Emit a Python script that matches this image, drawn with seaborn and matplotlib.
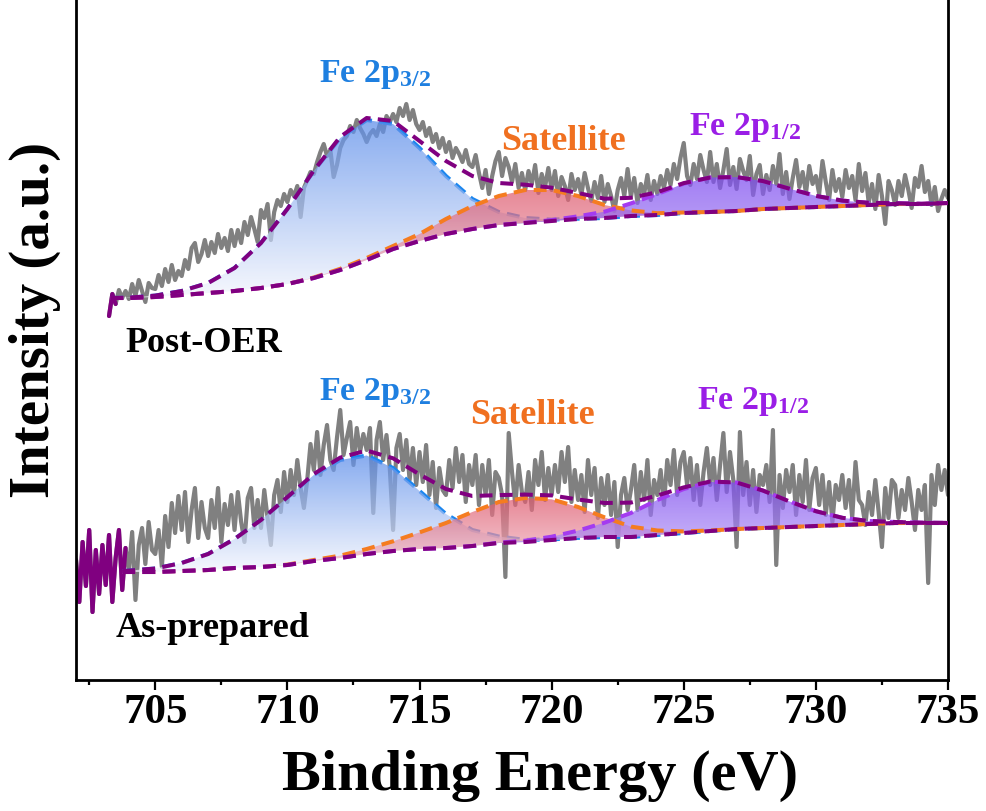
import numpy as np
import matplotlib
matplotlib.use("Agg")
import matplotlib.pyplot as plt
import seaborn as sns
from matplotlib.patches import PathPatch
from matplotlib.colors import to_rgb
from matplotlib.ticker import MultipleLocator

# ---------------- data ----------------
energy_step = 0.125

# Post-OER raw spectrum (starts at 703.25 eV, step 0.125 eV)
post_start = 703.25
post_raw = [684, 706, 696, 710, 702, 709,
            701, 716, 704, 720, 709, 698, 717, 712,
            711, 725, 714, 731, 718, 735, 720, 729,
            724, 740, 731, 752, 757, 738, 746, 760,
            744, 758, 747, 766, 752, 762, 749, 770,
            754, 770, 757, 778, 765, 783, 771, 758,
            790, 782, 796, 760, 788, 800, 794, 806,
            798, 810, 804, 814, 783, 812, 820, 828,
            826, 838, 848, 856, 844, 850, 823, 835,
            852, 860, 864, 874, 868, 880, 872, 866,
            858, 866, 870, 864, 876, 868, 884, 878,
            886, 878, 892, 884, 896, 880, 890, 876,
            870, 878, 864, 872, 858, 866, 852, 862,
            848, 858, 842, 852, 846, 838, 850, 836,
            833, 845, 827, 812, 830, 806, 824, 839,
            848, 824, 842, 833, 818, 836, 812, 827,
            810, 829, 816, 835, 807, 826, 813, 832,
            810, 829, 804, 823, 814, 800, 826, 810,
            821, 805, 827, 812, 799, 818, 802, 824,
            798, 816, 804, 789, 810, 822, 804, 831,
            803, 822, 797, 816, 806, 825, 800, 819,
            806, 824, 812, 830, 815, 836, 821, 842,
            857, 824, 815, 836, 821, 845, 830, 818,
            848, 818, 836, 812, 830, 851, 815, 833,
            811, 841, 829, 820, 844, 805, 826, 835,
            806, 825, 810, 834, 816, 846, 806, 828,
            801, 822, 840, 813, 828, 807, 834, 816,
            824, 806, 839, 818, 800, 830, 809, 821,
            803, 830, 812, 824, 800, 836, 809, 827,
            797, 816, 791, 825, 804, 776, 819, 810,
            795, 819, 804, 825, 810, 792, 822, 813,
            834, 808, 819, 795, 813, 789, 801, 810,
            802]

# As-prepared raw spectrum (starts at 702.0 eV, step 0.125 eV)
prep_start = 702.0
prep_raw = [440, 398, 458, 414, 470, 388, 450, 406,
            455, 415, 465, 398, 442, 470, 410, 452,
            430, 468, 400, 455, 472, 436, 478, 450,
            446, 470, 433, 484, 453, 497, 467, 504,
            470, 508, 458, 490, 512, 462, 498, 472,
            462, 500, 472, 512, 458, 496, 475, 505,
            470, 508, 478, 458, 502, 512, 472, 500,
            472, 510, 482, 455, 505, 520, 488, 528,
            498, 530, 505, 540, 512, 492, 520, 556,
            530, 568, 525, 555, 575, 540, 530, 562,
            590, 545, 562, 578, 535, 572, 548, 566,
            550, 572, 487, 560, 578, 540, 565, 532,
            470, 552, 566, 530, 560, 520, 552, 515,
            548, 518, 555, 505, 538, 492, 532, 510,
            505, 540, 512, 552, 518, 545, 498, 535,
            515, 545, 495, 535, 505, 540, 485, 528,
            522, 505, 423, 567, 528, 495, 535, 508,
            498, 528, 490, 540, 515, 548, 500, 532,
            505, 535, 508, 548, 518, 553, 498, 530,
            500, 525, 488, 540, 505, 532, 482, 522,
            495, 525, 485, 518, 453, 505, 522, 490,
            510, 535, 490, 528, 500, 540, 485, 520,
            505, 530, 495, 540, 515, 550, 505, 538,
            548, 515, 542, 500, 535, 495, 528, 552,
            515, 542, 500, 535, 567, 508, 548, 520,
            453, 568, 505, 538, 495, 530, 488, 525,
            515, 535, 498, 570, 435, 525, 492, 530,
            508, 535, 485, 525, 498, 540, 490, 522,
            532, 495, 525, 485, 518, 478, 515, 500,
            525, 492, 520, 482, 538, 500, 495, 475,
            508, 485, 520, 488, 453, 512, 482, 520,
            515, 482, 510, 490, 522, 498, 470, 510,
            490, 515, 417, 525, 495, 535, 510, 530,
            505]

# Fitted curves (1 eV grid): background and component heights above background
post_fit_x = [703.3] + list(range(704, 736))
post_bg = [702, 702, 703, 705, 707, 709, 712, 716, 722, 730, 740, 751, 759, 766,
           771, 775, 777, 779, 781, 782, 784, 785, 787, 788, 789, 791, 792, 793,
           794, 795, 796, 796, 797]
post_p32 = [0, 0.3, 1.4, 4, 10, 23, 45, 75, 107, 132, 140, 125, 93, 58, 30, 13, 5,
            1.4, 0.3, 0, 0, 0, 0, 0, 0, 0, 0, 0, 0, 0, 0, 0, 0]
post_sat = [0, 0, 0, 0, 0, 0, 0, 0, 0.5, 1.2, 2, 3, 7, 15, 23, 29, 33, 31, 23, 13,
            5.6, 1.8, 0.5, 0, 0, 0, 0, 0, 0, 0, 0, 0, 0]
post_p12 = [0, 0, 0, 0, 0, 0, 0, 0, 0, 0, 0, 0, 0, 0, 0, 0, 0.3, 0.9, 2.7, 6.3,
            12.6, 21, 29.4, 34.5, 33.9, 27.9, 19.3, 11.1, 5.4, 2.2, 0.8, 0.2, 0]

prep_fit_x = [703.75] + list(range(704, 736))
prep_bg = [428, 428, 428, 429, 430, 432, 433, 435, 439, 442, 446, 449, 451, 452,
           454, 457, 458, 460, 462, 463, 463, 465, 467, 469, 471, 472, 473, 474,
           475, 476, 477, 477, 477]
prep_p32 = [0.8, 1.4, 3.5, 8, 16, 29, 47, 67.5, 86, 98, 98.5, 83, 58, 34, 16, 6.5,
            2.1, 0.6, 0.1, 0, 0, 0, 0, 0, 0, 0, 0, 0, 0, 0, 0, 0, 0]
prep_sat = [0, 0, 0, 0, 0, 0, 0, 0.4, 1, 2.4, 5, 9.7, 16.6, 25, 34, 41, 44, 40.7,
            31, 19.7, 10.4, 4.5, 1.6, 0.5, 0, 0, 0, 0, 0, 0, 0, 0, 0]
prep_p12 = [0, 0, 0, 0, 0, 0, 0, 0, 0, 0, 0, 0, 0, 0, 0, 0.4, 1.3, 3.3, 7.4, 14.3,
            24, 35, 44, 49, 46.5, 37.4, 25.6, 14.8, 7.2, 3, 1, 0.3, 0.1]

# ticks / labels
x_ticks = [705, 710, 715, 720, 725, 730, 735]
sample_labels = ["Post-OER", "As-prepared"]

# ---------------- style ----------------
sns.set_theme(style="ticks")
plt.rcParams["font.family"] = ["Liberation Serif", "DejaVu Serif"]
plt.rcParams["font.weight"] = "bold"
plt.rcParams["text.color"] = "black"
plt.rcParams["axes.labelcolor"] = "black"
plt.rcParams["xtick.color"] = "black"
plt.rcParams["xtick.labelcolor"] = "black"
plt.rcParams["mathtext.fontset"] = "custom"
plt.rcParams["mathtext.rm"] = "Liberation Serif:bold"
plt.rcParams["mathtext.it"] = "Liberation Serif:bold"
plt.rcParams["mathtext.bf"] = "Liberation Serif:bold"
plt.rcParams["mathtext.default"] = "rm"

C_RAW = "#808080"
C_BLUE = "#1C86EE"
C_ORANGE = "#F57C20"
C_VIOLET = "#A43BF0"
C_DARK = "#800080"
T_BLUE = "#1E7FE0"
T_ORANGE = "#F07020"
T_VIOLET = "#9A1EE6"

DASH = (0, (3.2, 1.8))

fig = plt.figure(figsize=(9.86, 8.11), dpi=100)
ax = fig.add_axes([76 / 986, 1 - 680 / 811, 872 / 986, 680 / 811])


def gradient_fill(x, lower, upper, top_c, bot_c, alpha, z):
    poly = ax.fill_between(x, lower, upper, facecolor="none", edgecolor="none", linewidth=0)
    path = poly.get_paths()[0]
    patch = PathPatch(path, transform=ax.transData, facecolor="none", edgecolor="none")
    ax.add_patch(patch)
    n = 256
    t = np.linspace(0, 1, n)[:, None]
    top = np.array(to_rgb(top_c))
    bot = np.array(to_rgb(bot_c))
    rgb = bot + (top - bot) * t
    img = np.zeros((n, 1, 4))
    img[:, 0, :3] = rgb
    img[:, 0, 3] = alpha
    im = ax.imshow(img, extent=[min(x), max(x), min(lower), max(upper)], origin="lower",
                   aspect="auto", zorder=z, interpolation="bilinear")
    im.set_clip_path(patch)


def dline(x, y, color, z, lw=2.9):
    sns.lineplot(x=x, y=y, ax=ax, color=color, linewidth=lw, linestyle=DASH,
                 estimator=None, sort=False, zorder=z)


def draw_spectrum(start, raw, purple_until, fx, bg, p32, sat, p12):
    ex = start + energy_step * np.arange(len(raw))
    raw = np.asarray(raw, float)
    sns.lineplot(x=ex, y=raw, ax=ax, color=C_RAW, linewidth=3.0, estimator=None,
                 sort=False, zorder=2)
    m = ex <= purple_until
    sns.lineplot(x=ex[m], y=raw[m], ax=ax, color=C_DARK, linewidth=3.0, estimator=None,
                 sort=False, zorder=2.1)
    fx = np.asarray(fx, float)
    bg = np.asarray(bg, float)
    c32 = bg + np.asarray(p32)
    csat = bg + np.asarray(sat)
    c12 = bg + np.asarray(p12)
    env = bg + np.asarray(p32) + np.asarray(sat) + np.asarray(p12)
    dline(fx, c32, C_BLUE, 3)
    gradient_fill(fx, bg, c32, "#5A8CEA", "#F4F6FD", 0.72, 3.2)
    gradient_fill(fx, bg, csat, "#DE5A6E", "#F6C8D2", 0.72, 3.3)
    gradient_fill(fx, bg, c12, "#7E4CF0", "#C9B6F8", 0.72, 3.4)
    dline(fx, csat, C_ORANGE, 4)
    dline(fx, c12, C_VIOLET, 4.1)
    dline(fx, bg, C_DARK, 4.2)
    dline(fx, env, C_DARK, 5)


draw_spectrum(post_start, post_raw, 703.6, post_fit_x, post_bg, post_p32, post_sat, post_p12)
draw_spectrum(prep_start, prep_raw, 703.95, prep_fit_x, prep_bg, prep_p32, prep_sat, prep_p12)

# annotations
fs_peak = 24.5
fs_sat = 26
fs_sample = 26
ax.text(711.2, 918, r"Fe 2p$_{3/2}$", color=T_BLUE, fontsize=fs_peak, fontweight="bold", va="baseline")
ax.text(718.1, 850, "Satellite", color=T_ORANGE, fontsize=fs_sat, fontweight="bold", va="baseline")
ax.text(725.2, 865, r"Fe 2p$_{1/2}$", color=T_VIOLET, fontsize=fs_peak, fontweight="bold", va="baseline")
ax.text(711.2, 600, r"Fe 2p$_{3/2}$", color=T_BLUE, fontsize=fs_peak, fontweight="bold", va="baseline")
ax.text(716.9, 576, "Satellite", color=T_ORANGE, fontsize=fs_sat, fontweight="bold", va="baseline")
ax.text(725.5, 591, r"Fe 2p$_{1/2}$", color=T_VIOLET, fontsize=fs_peak, fontweight="bold", va="baseline")
ax.text(703.85, 648, sample_labels[0], color="black", fontsize=fs_sample, fontweight="bold", va="baseline")
ax.text(703.5, 363, sample_labels[1], color="black", fontsize=fs_sample, fontweight="bold", va="baseline")

# axes
ax.set_xlim(702, 735)
ax.set_ylim(320, 1000)
ax.set_xticks(x_ticks)
ax.set_xticklabels([str(t) for t in x_ticks])
ax.xaxis.set_minor_locator(MultipleLocator(2.5))
ax.set_yticks([])
ax.tick_params(axis="x", which="major", length=7.2, width=1.6, direction="out",
               labelsize=31, pad=3, color="black", labelcolor="black")
ax.tick_params(axis="x", which="minor", length=3.6, width=1.6, direction="out", color="black")
for lab in ax.get_xticklabels():
    lab.set_fontweight("bold")
ax.set_xlabel("")
ax.set_ylabel("")
for s in ["left", "right", "bottom"]:
    ax.spines[s].set_visible(True)
    ax.spines[s].set_linewidth(2.0)
    ax.spines[s].set_color("black")
ax.spines["top"].set_visible(False)
ax.set_facecolor("white")

fig.text(540 / 986, 1 - 790 / 811, "Binding Energy (eV)", ha="center", va="baseline",
         fontsize=42, fontweight="bold", color="black")
fig.text(35 / 986, 1 - 320 / 811, "Intensity (a.u.)", ha="center", va="center",
         rotation=90, fontsize=41, fontweight="bold", color="black")

fig.savefig("out.png", dpi=100, facecolor="white")
